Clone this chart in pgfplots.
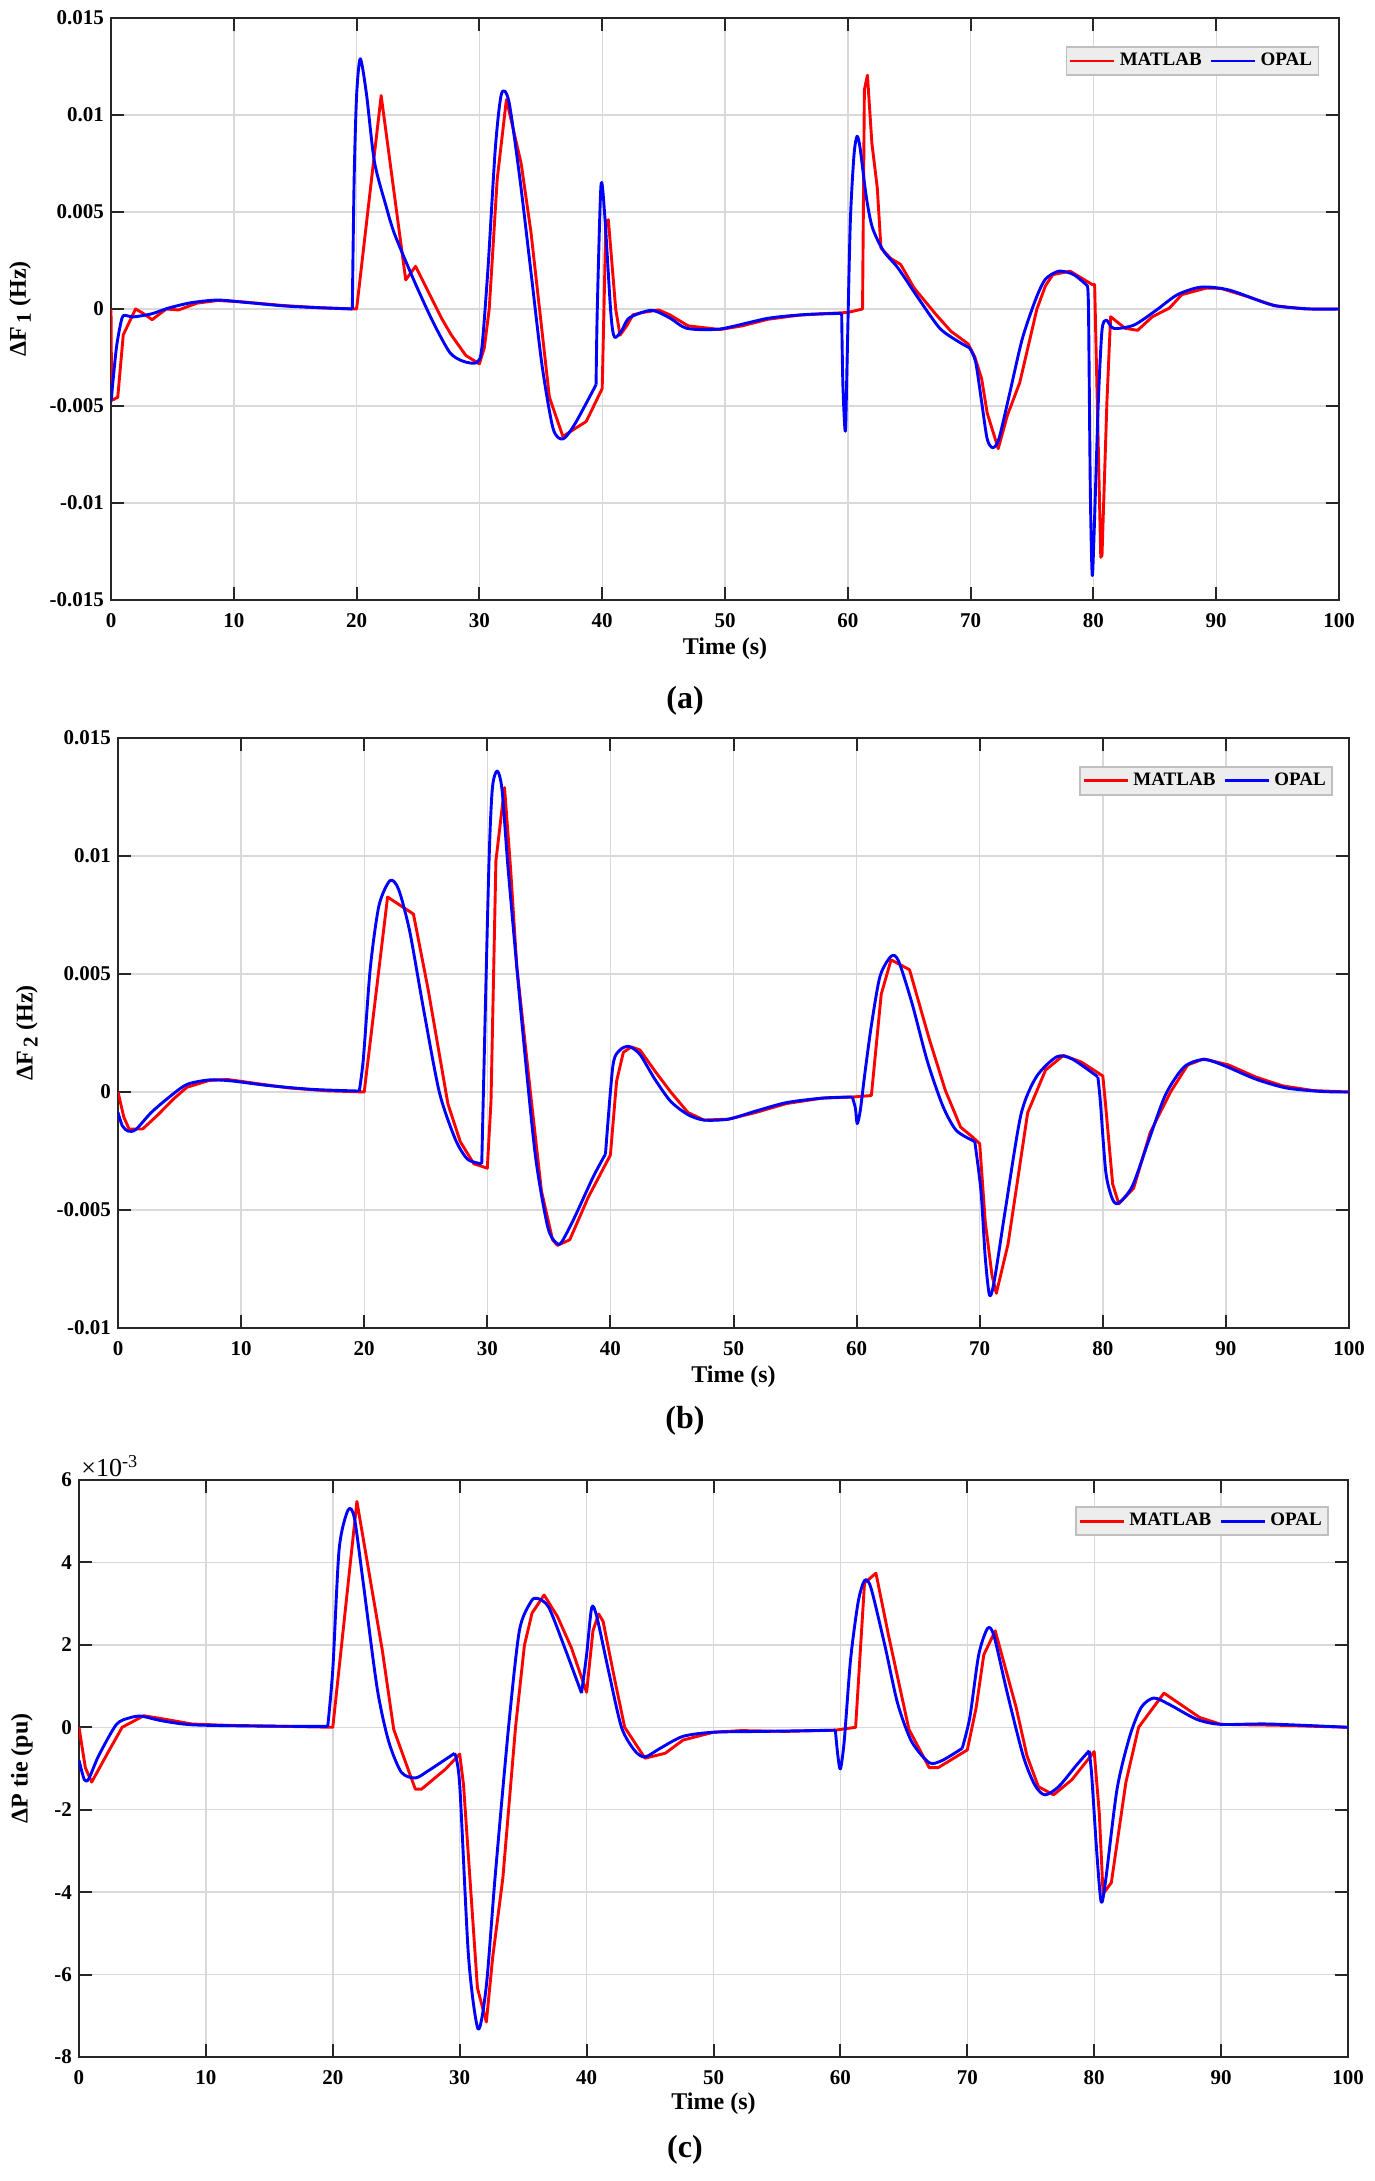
\documentclass[border=0pt]{standalone}
\usepackage{fontspec}
\setmainfont{Liberation Serif}
\usepackage{pgfplots}
\pgfplotsset{compat=1.18}
\definecolor{mred}{RGB}{255,0,0}
\definecolor{mblue}{RGB}{0,0,255}
\pgfplotsset{
  mystyle/.style={
    scale only axis,
    xmin=0,xmax=100,
    xtick={0,10,...,100},
    /pgf/number format/assume math mode=true,
    scaled y ticks=false,
    grid=major,
    major grid style={black!15, line width=0.7pt},
    axis line style={line width=1pt, black!85},
    tick style={line width=1pt, black!85},
    tick align=inside,
    major tick length=6.5pt,
    tick label style={font=\bfseries\fontsize{10.5}{12}\selectfont},
    xticklabel style={yshift=-3pt},
    label style={font=\bfseries\fontsize{12}{14}\selectfont},
    xlabel={Time (s)},
    legend columns=2,
    legend cell align=left,
    legend style={fill=black!7, draw=black!25, line width=0.9pt,
      font=\bfseries\fontsize{9.5}{11}\selectfont, anchor=north east,
      inner sep=1.2pt,
      /tikz/every even column/.append style={column sep=2pt}},
    legend image code/.code={\draw[#1] (0pt,0pt) -- (22pt,0pt);},
    every axis plot/.append style={line width=1.45pt, line join=round},
  },
  opal/.style={mblue, smooth, tension=0.45},
  opalx/.style={mblue, smooth, tension=0.45, forget plot},
}
\begin{document}
\begin{tikzpicture}
\path[use as bounding box] (0,0) rectangle (687.5pt,1090.5pt);

% ---------------- panel (a)
\begin{axis}[mystyle, at={(55.5pt,790.5pt)}, anchor=south west,
  width=614pt, height=291pt,
  ymin=-15, ymax=15,
  ytick={-15,-10,-5,0,5,10,15},
  yticklabels={-0.015,-0.01,-0.005,0,0.005,0.01,0.015},
  ylabel={ΔF\,\raisebox{-0.45ex}{\fontsize{10.5}{12}\selectfont 1} (Hz)},
  ylabel style={at={(axis description cs:-0.074,0.5)}, anchor=center},
  xlabel style={at={(axis description cs:0.5,-0.084)}, anchor=center},
  legend style={at={(axis description cs:0.984,0.952)}},
]
\addplot[mred] coordinates {
(0,0) (0.05,-4.6) (0.2,-4.67) (0.55,-4.55) (1.0,-1.33) (2.0,0) (2.5,-0.18) (3.35,-0.55) (4.5,0) (5.5,-0.05) (7,0.3) (8.7,0.44) (11,0.35) (14,0.18) (17,0.06) (20,0) (22,11.0) (24,1.5) (24.8,2.2) (26.9,-0.46) (27.7,-1.33) (28.9,-2.4) (30,-2.83) (30.4,-2.0) (30.8,0) (31.45,6.7) (32.2,10.8) (33.4,7.5) (34.2,3.95) (35.7,-4.55) (36.8,-6.57) (37.8,-6.16) (38.7,-5.8) (40,-4.1) (40.3,4.5) (40.5,4.6) (41.1,0) (41.45,-1.35) (42,-0.87) (42.5,-0.3) (43.3,-0.18) (44.6,-0.05) (45.5,-0.3) (47,-0.87) (49.6,-1.06) (51.4,-0.87) (53.5,-0.53) (56,-0.32) (58.4,-0.23) (60,-0.18) (61.2,0) (61.35,11.3) (61.6,12.05) (61.96,8.55) (62.4,6.25) (62.7,3.15) (63.5,2.6) (64.3,2.3) (65.4,1.08) (67.2,-0.3) (68.4,-1.15) (69.8,-1.8) (70.35,-2.48) (70.9,-3.6) (71.35,-5.36) (72.25,-7.2) (73,-5.47) (74,-3.8) (75.4,0) (76.1,1.2) (76.7,1.77) (78.1,1.95) (79.9,1.26) (80.1,1.26) (80.6,-12.8) (80.7,-12.7) (81.1,-4.8) (81.4,-0.4) (82.6,-1.0) (83.6,-1.1) (84.8,-0.4) (86.2,0.05) (87.2,0.74) (89.2,1.08) (90.4,1.06) (92.4,0.67) (94.8,0.16) (97.3,0) (100,0)
};
\addlegendentry{MATLAB}
\addplot[opal] coordinates {
(0,-4.8) (0.44,-2.0) (0.9,-0.46) (1.27,-0.34) (1.8,-0.41) (3.3,-0.25) (4.7,0.05) (6.5,0.32) (8.7,0.46) (11.3,0.32) (14.5,0.14) (19.65,0)
};
\addlegendentry{OPAL}
\addplot[opalx] coordinates {
(19.65,0) (19.8,6.7) (20.0,11.0) (20.3,12.9) (20.8,11.1) (21.45,7.6) (22.4,5.3) (23.1,3.85) (24.7,1.43) (26.2,-0.64) (27.6,-2.25) (28.7,-2.7) (29.8,-2.76) (30.2,-2.0) (30.7,2.1) (31.3,8.3) (31.8,11.1) (32.4,10.7) (33.3,6.7) (34.2,1.9) (35.1,-2.9) (36.0,-6.16) (36.8,-6.7) (37.8,-5.9) (39.5,-3.9)
};
\addplot[opalx] coordinates {
(39.5,-3.9) (39.6,0) (39.9,6.37) (40.2,4.9) (40.7,-0.18) (41.0,-1.45) (41.6,-1.1) (42.2,-0.46) (44,-0.07) (45.5,-0.46) (46.9,-1.0) (49.6,-1.03) (53.5,-0.48) (56.7,-0.28) (59.5,-0.23)
};
\addplot[opalx] coordinates {
(59.5,-0.23) (59.6,-3.9) (59.8,-6.3) (59.95,-2.5) (60.2,4.4) (60.5,7.9) (60.75,8.9) (61.0,8.3) (61.5,5.8) (62.0,4.2) (62.9,3.0) (64.1,2.1) (65.8,0.5) (67.5,-1.0) (69.0,-1.68) (69.9,-2.0)
};
\addplot[opalx] coordinates {
(69.9,-2.0) (70.4,-2.7) (70.9,-4.8) (71.35,-6.7) (71.8,-7.15) (72.3,-6.7) (73.2,-4.3) (74.2,-1.56) (75.3,0.5) (76.1,1.54) (77.2,1.95) (78.4,1.77) (79.5,1.2)
};
\addplot[opalx] coordinates {
(79.5,1.2) (79.6,0) (79.75,-9.4) (79.9,-13.7) (80.05,-11.7) (80.4,-4.8) (80.7,-1.1) (81.05,-0.57) (81.65,-1.0) (83.3,-0.83) (85.1,-0.07) (86.85,0.74) (88.8,1.13) (91.1,0.97) (94.6,0.2) (97.7,0) (100,0)
};
\end{axis}

% ---------------- panel (b)
\begin{axis}[mystyle, at={(59pt,426.5pt)}, anchor=south west,
  width=615.5pt, height=295pt,
  ymin=-10, ymax=15,
  ytick={-10,-5,0,5,10,15},
  yticklabels={-0.01,-0.005,0,0.005,0.01,0.015},
  ylabel={ΔF\,\raisebox{-0.45ex}{\fontsize{10.5}{12}\selectfont 2} (Hz)},
  ylabel style={at={(axis description cs:-0.074,0.5)}, anchor=center},
  xlabel style={at={(axis description cs:0.5,-0.083)}, anchor=center},
  legend style={at={(axis description cs:0.987,0.953)}},
]
\addplot[mred] coordinates {
(0,0) (0.47,-1.06) (0.9,-1.57) (2.0,-1.57) (3.26,-0.96) (4.5,-0.3) (5.6,0.2) (7.4,0.49) (8.9,0.53) (10.7,0.4) (13.9,0.17) (17,0.05) (20,0) (21.9,8.26) (24,7.54) (25.2,4.33) (26.8,-0.5) (27.8,-2.1) (28.9,-3.04) (30,-3.23) (30.3,-0.4) (30.7,9.8) (31.4,12.9) (31.9,9.4) (32.4,5.3) (33.5,0) (34.4,-4.2) (35.3,-6.26) (35.7,-6.5) (36.7,-6.26) (38.2,-4.46) (40,-2.67) (40.5,0.45) (41.05,1.68) (41.7,1.91) (42.4,1.78) (43.7,0.83) (44.9,0) (46.3,-0.87) (47.6,-1.19) (49.6,-1.15) (51.8,-0.87) (54.3,-0.49) (57.2,-0.26) (59.75,-0.21) (61.2,-0.15) (62.0,4.14) (62.8,5.6) (64.3,5.18) (65.9,2.25) (67.2,0.08) (68.45,-1.49) (69.4,-1.9) (70,-2.19) (70.45,-5.5) (71.0,-7.77) (71.35,-8.53) (72.3,-6.45) (73.9,-0.87) (75.35,0.93) (76.8,1.55) (78.25,1.27) (80,0.68) (80.2,-0.4) (80.8,-3.9) (81.3,-4.74) (82.5,-4.08) (83.85,-1.72) (85.5,0) (86.9,1.15) (88.2,1.4) (90.2,1.15) (92.4,0.64) (94.6,0.26) (97.1,0.06) (100,0)
};
\addlegendentry{MATLAB}
\addplot[opal] coordinates {
(0,-0.87) (0.36,-1.44) (0.83,-1.66) (1.45,-1.59) (2.7,-0.87) (4.2,-0.2) (5.6,0.32) (7.4,0.51) (9.2,0.47) (12.1,0.28) (15.8,0.11) (19.6,0.04)
};
\addlegendentry{OPAL}
\addplot[opalx] coordinates {
(19.6,0.04) (19.93,1.4) (20.5,5.27) (21.2,7.9) (22.1,8.96) (22.8,8.58) (23.7,6.8) (24.8,3.57) (26.1,0) (27.4,-2.0) (28.4,-2.85) (29.55,-3.04)
};
\addplot[opalx] coordinates {
(29.55,-3.04) (30.1,9.05) (30.4,12.8) (30.8,13.6) (31.2,12.8) (31.7,9.4) (32.8,3.0) (33.9,-2.67) (34.9,-5.7) (35.6,-6.4) (36.05,-6.35) (37.1,-5.3) (38.6,-3.6) (39.6,-2.63)
};
\addplot[opalx] coordinates {
(39.6,-2.63) (40.2,1.1) (40.76,1.77) (41.5,1.93) (42.4,1.59) (43.6,0.55) (44.9,-0.4) (46.3,-0.96) (47.6,-1.19) (49.6,-1.15) (51.8,-0.81) (54.3,-0.45) (57.2,-0.26) (59.65,-0.21)
};
\addplot[opalx] coordinates {
(59.65,-0.21) (59.9,-0.68) (60.05,-1.34) (60.3,-0.78) (60.66,0.74) (61.2,2.82) (61.9,4.9) (62.8,5.75) (63.4,5.56) (64.5,3.76) (65.75,1.3) (67.0,-0.59) (68.1,-1.63) (69.6,-2.1)
};
\addplot[opalx] coordinates {
(69.6,-2.1) (70.1,-4.18) (70.45,-7.0) (70.8,-8.62) (71.2,-7.96) (72.1,-4.93) (73.35,-0.96) (74.6,0.64) (76.25,1.49) (77.5,1.4) (79.6,0.64)
};
\addplot[opalx] coordinates {
(79.6,0.64) (79.8,-0.4) (80.25,-3.42) (80.8,-4.56) (81.3,-4.7) (82.4,-3.99) (83.7,-2.1) (85.1,-0.11) (86.6,1.06) (88.2,1.38) (89.85,1.12) (92.4,0.55) (94.9,0.17) (97.8,0.02) (100,0)
};
\end{axis}

% ---------------- panel (c)
\begin{axis}[mystyle, name=cax, at={(39.5pt,62pt)}, anchor=south west,
  width=634.5pt, height=288.5pt,
  ymin=-8, ymax=6,
  ytick={-8,-6,-4,-2,0,2,4,6},
  yticklabels={-8,-6,-4,-2,0,2,4,6},
  ylabel={ΔP tie (pu)},
  ylabel style={at={(axis description cs:-0.045,0.5)}, anchor=center},
  xlabel style={at={(axis description cs:0.5,-0.081)}, anchor=center},
  legend style={at={(axis description cs:0.985,0.955)}},
]
\addplot[mred] coordinates {
(0,0) (0.5,-0.98) (1.0,-1.33) (2.25,-0.63) (3.4,0) (5.1,0.28) (6.5,0.21) (8.9,0.08) (11.4,0.05) (14.9,0.03) (20,0) (21.9,5.48) (23.9,1.87) (24.8,-0.05) (26.5,-1.5) (27.0,-1.5) (28.9,-1.01) (30,-0.65) (30.3,-1.39) (31.4,-6.33) (32.1,-7.15) (32.6,-5.58) (33.4,-3.66) (34.4,0) (35.1,1.99) (35.7,2.77) (36.65,3.21) (37.7,2.69) (38.8,1.93) (40.0,0.85) (40.5,2.34) (40.95,2.75) (41.3,2.57) (42.2,1.18) (43.0,0) (44.6,-0.75) (46.2,-0.63) (47.6,-0.31) (50,-0.12) (52.2,-0.08) (55.7,-0.1) (59.6,-0.07) (61.2,0) (61.9,3.5) (62.8,3.74) (63.8,2.22) (65.4,-0.05) (67.0,-0.98) (67.7,-0.98) (70.0,-0.55) (70.7,0.48) (71.3,1.76) (72.2,2.34) (73.85,0.48) (74.7,-0.69) (75.6,-1.44) (76.8,-1.64) (78.25,-1.27) (80.0,-0.59) (80.4,-2.08) (80.7,-4.04) (81.35,-3.77) (82.5,-1.33) (83.5,0) (85.5,0.83) (88.3,0.24) (90.0,0.07) (94.45,0.05) (100,0)
};
\addlegendentry{MATLAB}
\addplot[opal] coordinates {
(0,-0.8) (0.42,-1.27) (0.77,-1.25) (1.55,-0.69) (2.95,0.07) (4.0,0.23) (4.9,0.27) (6.5,0.16) (8.9,0.06) (14,0.03) (19.6,0.02)
};
\addlegendentry{OPAL}
\addplot[opalx] coordinates {
(19.6,0.02) (20.0,1.4) (20.5,4.32) (21.2,5.27) (21.7,5.08) (22.4,3.5) (23.5,0.94) (24.4,-0.34) (25.4,-1.09) (26.5,-1.23) (27.5,-1.06) (29.6,-0.63)
};
\addplot[opalx] coordinates {
(29.6,-0.63) (30.0,-1.39) (30.7,-5.58) (31.45,-7.32) (32.1,-6.27) (32.8,-3.6) (33.85,0) (34.7,2.34) (35.6,3.04) (36.1,3.13) (37.0,2.92) (38.2,1.99) (39.6,0.83)
};
\addplot[opalx] coordinates {
(39.6,0.83) (40.0,1.76) (40.4,2.9) (40.8,2.69) (41.7,1.41) (42.75,0) (43.8,-0.57) (44.6,-0.72) (45.8,-0.51) (47.6,-0.22) (50,-0.12) (54.0,-0.1) (59.6,-0.07)
};
\addplot[opalx] coordinates {
(59.6,-0.07) (59.8,-0.69) (60.0,-1.01) (60.3,-0.34) (60.8,1.64) (61.4,3.04) (61.9,3.56) (62.4,3.39) (63.5,1.99) (64.5,0.59) (65.6,-0.34) (67.0,-0.86) (68.05,-0.8) (69.6,-0.51)
};
\addplot[opalx] coordinates {
(69.6,-0.51) (70.2,0.24) (70.9,1.76) (71.6,2.4) (72.1,2.22) (73.15,0.83) (74.4,-0.69) (75.3,-1.39) (76.1,-1.64) (77.2,-1.44) (78.6,-0.92) (79.6,-0.57)
};
\addplot[opalx] coordinates {
(79.6,-0.57) (79.8,-1.15) (80.2,-3.02) (80.55,-4.24) (80.9,-3.72) (81.8,-1.5) (82.8,-0.22) (83.7,0.48) (84.7,0.71) (86.0,0.54) (88.1,0.19) (90.0,0.07) (93.7,0.08) (100,0)
};
\end{axis}
\node[anchor=south west, inner sep=0pt, font=\fontsize{13}{15}\selectfont] at ([xshift=1pt,yshift=1.5pt]cax.north west) {×10\textsuperscript{-3}};

% captions
\node[font=\bfseries\fontsize{16}{18}\selectfont] at (342.5pt,740pt) {(a)};
\node[font=\bfseries\fontsize{16}{18}\selectfont] at (342.5pt,380pt) {(b)};
\node[font=\bfseries\fontsize{16}{18}\selectfont] at (342.5pt,15.5pt) {(c)};
\end{tikzpicture}
\end{document}
